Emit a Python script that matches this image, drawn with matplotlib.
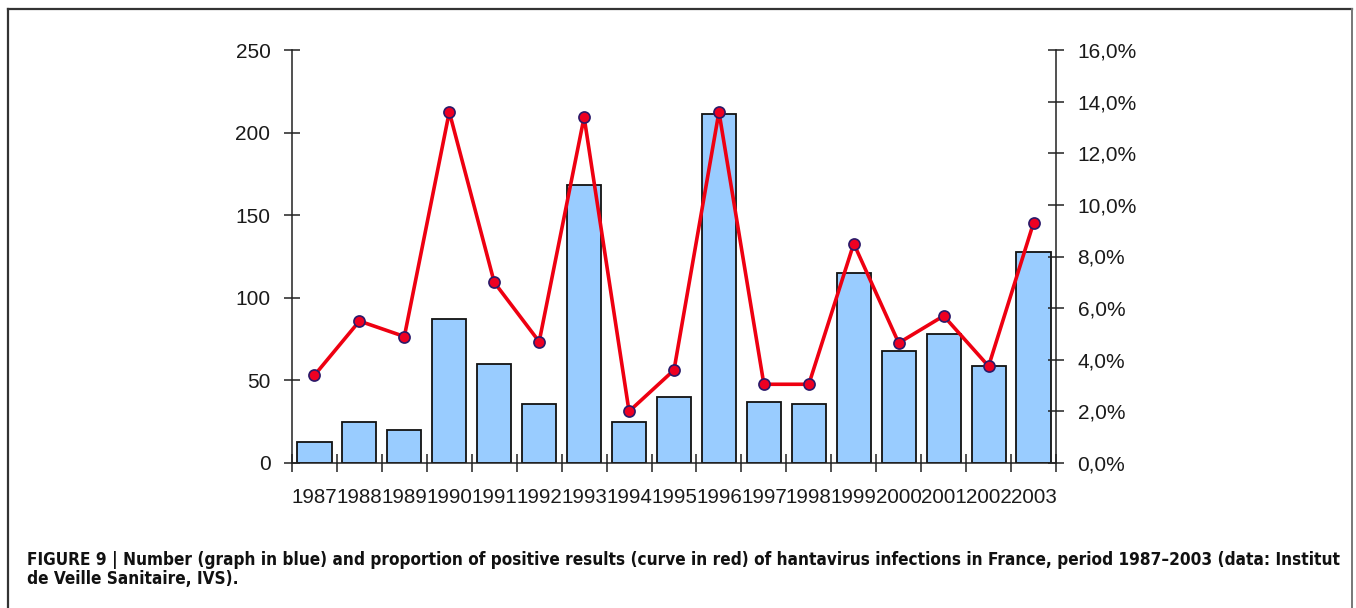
import matplotlib
matplotlib.use("Agg")
import matplotlib.pyplot as plt
from matplotlib import font_manager
from matplotlib.lines import Line2D
from matplotlib.ticker import FixedLocator, FuncFormatter

# Values
years = ["1987", "1988", "1989", "1990", "1991", "1992", "1993", "1994", "1995",
         "1996", "1997", "1998", "1999", "2000", "2001", "2002", "2003"]
cases = [13, 25, 20, 87, 60, 36, 168, 25, 40, 211, 37, 36, 115, 68, 78, 59, 128]
positive_pct = [3.4, 5.5, 4.9, 13.6, 7.0, 4.7, 13.4, 2.0, 3.6, 13.6, 3.05, 3.05,
                8.5, 4.65, 5.7, 3.75, 9.3]

caption_1 = ("FIGURE 9 | Number (graph in blue) and proportion of positive results "
             "(curve in red) of hantavirus infections in France, period 1987\u20132003 "
             "(data: Institut")
caption_2 = "de Veille Sanitaire, IVS)."

W, H = 1356, 608
plt.rcParams["font.family"] = ["Liberation Sans", "DejaVu Sans"]
arial = dict(family=["Liberation Sans", "DejaVu Sans"])

# a condensed face for the caption if one is installed
installed = {f.name for f in font_manager.fontManager.ttflist}
stretches = {(f.name, f.stretch) for f in font_manager.fontManager.ttflist}
if "Liberation Sans Narrow" in installed:
    cap_kw = dict(family=["Liberation Sans Narrow", "DejaVu Sans"])
elif any(n == "DejaVu Sans" and s in ("condensed", "semi-condensed", 87, 75)
         for n, s in stretches):
    cap_kw = dict(family=["DejaVu Sans"], fontstretch="condensed")
else:
    cap_kw = arial

fig = plt.figure(figsize=(W / 100, H / 100), dpi=100)
fig.patch.set_facecolor("white")

ax = fig.add_axes([292 / W, 1 - 463 / H, (1056 - 292) / W, (463 - 50) / H])
x = list(range(len(years)))
ax.bar(x, cases, width=0.76, color="#99ccff", edgecolor="#111111", linewidth=1.3, zorder=2)
ax.set_xlim(-0.5, len(years) - 0.5)
ax.set_ylim(0, 250)
ax.set_yticks([0, 50, 100, 150, 200, 250])

# year labels at centres, tick marks at the category boundaries
ax.set_xticks(x)
ax.set_xticklabels(years, fontsize=14.8, **arial)
ax.tick_params(axis="x", which="major", length=0, pad=18, colors="#1a1a1a")
ax.xaxis.set_minor_locator(FixedLocator([i - 0.5 for i in range(len(years) + 1)]))
ax.tick_params(axis="x", which="minor", direction="inout", length=13, width=1.1, color="#222222")
ax.set_yticklabels([str(v) for v in [0, 50, 100, 150, 200, 250]], fontsize=15, **arial)
ax.tick_params(axis="y", direction="inout", length=11, width=1.1, pad=10,
               colors="#1a1a1a")
ax.tick_params(axis="y", color="#222222")

for side in ["top", "right"]:
    ax.spines[side].set_visible(False)
for side in ["left", "bottom"]:
    ax.spines[side].set_linewidth(1.1)
    ax.spines[side].set_color("#222222")

ax2 = ax.twinx()
ax2.set_ylim(0, 16)
pct_ticks = [0, 2, 4, 6, 8, 10, 12, 14, 16]
ax2.set_yticks(pct_ticks)
ax2.set_yticklabels([f"{v:.1f}%".replace(".", ",") for v in pct_ticks], fontsize=15, **arial)
ax2.tick_params(axis="y", direction="inout", length=11, width=1.1, pad=10,
                colors="#1a1a1a")
ax2.tick_params(axis="y", color="#222222")
for side in ["top", "left", "bottom"]:
    ax2.spines[side].set_visible(False)
ax2.spines["right"].set_linewidth(1.1)
ax2.spines["right"].set_color("#222222")
ax2.plot(x, positive_pct, color="#ee0011", linewidth=2.6, marker="o", markersize=8,
         markerfacecolor="#ee0022", markeredgecolor="#2a1a6a", markeredgewidth=1.2, zorder=3)

# frame around the figure panel
fig.add_artist(Line2D([8 / W, 8 / W], [0, 1 - 9 / H], color="#333333", linewidth=1.6))
fig.add_artist(Line2D([8 / W, 1352 / W], [1 - 9 / H, 1 - 9 / H], color="#333333", linewidth=1.6))
fig.add_artist(Line2D([1352 / W, 1352 / W], [0, 1 - 9 / H], color="#777777", linewidth=1.4))

# caption, sized so the first line spans the same width as in the figure
t1 = fig.text(27 / W, 1 - 565 / H, caption_1, fontsize=12, fontweight="bold",
              ha="left", va="baseline", color="#111111", **cap_kw)
fig.canvas.draw()
w = t1.get_window_extent().width
fs = 12 * (1308 / w)
t1.set_fontsize(fs)
fig.text(27 / W, 1 - 584 / H, caption_2, fontsize=fs, fontweight="bold",
         ha="left", va="baseline", color="#111111", **cap_kw)

fig.savefig("out.png", dpi=100)
